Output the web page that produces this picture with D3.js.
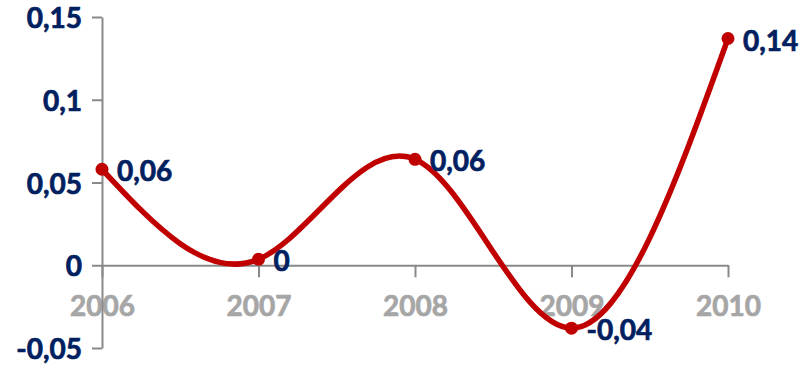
<!DOCTYPE html>
<html>
<head>
<meta charset="utf-8">
<script src="https://cdn.jsdelivr.net/npm/d3@7"></script>
<style>
  html, body { margin: 0; padding: 0; background: #ffffff; }
  svg { display: block; }
  text { font-family: Lato, "Open Sans", sans-serif; font-weight: bold; }
</style>
</head>
<body>
<svg id="chart" width="811" height="365"></svg>
<script>
// Series: yearly values
const years = ["2006", "2007", "2008", "2009", "2010"];
const values = [0.058, 0.0036, 0.064, -0.038, 0.137];
const yTicks = [-0.05, 0, 0.05, 0.1, 0.15];

const svg = d3.select("#chart");

const locale = d3.formatLocale({
  decimal: ",", thousands: ".", grouping: [3], currency: ["", ""], minus: "-"
});
const fmt = locale.format(".2~f");

const x = d3.scalePoint().domain(years).range([102, 728]);
const y = d3.scaleLinear().domain([-0.05, 0.15]).range([348, 17]);

const axisColor = "#898989";
const navy = "#002060";

// Heavier bold text
function styleText(sel, color) {
  sel.attr("fill", color)
    .attr("stroke", color)
    .attr("stroke-width", 0.7)
    .style("font-size", "28px")
    .style("font-family", "Lato, 'Open Sans', sans-serif")
    .style("font-weight", "bold");
}

// Horizontal axis along zero
const xAxis = svg.append("g")
  .attr("transform", `translate(0,${y(0)})`)
  .call(d3.axisBottom(x).tickSizeInner(12).tickSizeOuter(0).tickPadding(19));
xAxis.select(".domain").attr("stroke", axisColor).attr("stroke-width", 2);
xAxis.selectAll(".tick line").attr("stroke", axisColor).attr("stroke-width", 2);
styleText(xAxis.selectAll(".tick text"), "#a6a6a6");

// Vertical axis
const yAxis = svg.append("g")
  .attr("transform", `translate(${x(years[0])},0)`)
  .call(d3.axisLeft(y).tickValues(yTicks).tickFormat(fmt)
    .tickSizeInner(10).tickSizeOuter(0).tickPadding(10));
yAxis.select(".domain").attr("stroke", axisColor).attr("stroke-width", 2);
yAxis.selectAll(".tick line").attr("stroke", axisColor).attr("stroke-width", 2);
styleText(yAxis.selectAll(".tick text").attr("dy", "0.38em"), navy);

const data = years.map((yr, i) => ({ year: yr, value: values[i] }));

// Smoothed line
const line = d3.line()
  .x(d => x(d.year))
  .y(d => y(d.value))
  .curve(d3.curveNatural);

svg.append("path")
  .datum(data)
  .attr("d", line)
  .attr("fill", "none")
  .attr("stroke", "#c00000")
  .attr("stroke-width", 5.5)
  .attr("stroke-linecap", "round");

// Markers
svg.selectAll("circle.pt")
  .data(data)
  .join("circle")
  .attr("class", "pt")
  .attr("cx", d => x(d.year))
  .attr("cy", d => y(d.value))
  .attr("r", 6.5)
  .attr("fill", "#c00000");

// Value labels
const labels = svg.selectAll("text.val")
  .data(data)
  .join("text")
  .attr("class", "val")
  .attr("x", d => x(d.year) + 15)
  .attr("y", d => y(d.value) + 2)
  .attr("dy", "0.36em")
  .text(d => fmt(d.value));
styleText(labels, navy);
</script>
</body>
</html>
